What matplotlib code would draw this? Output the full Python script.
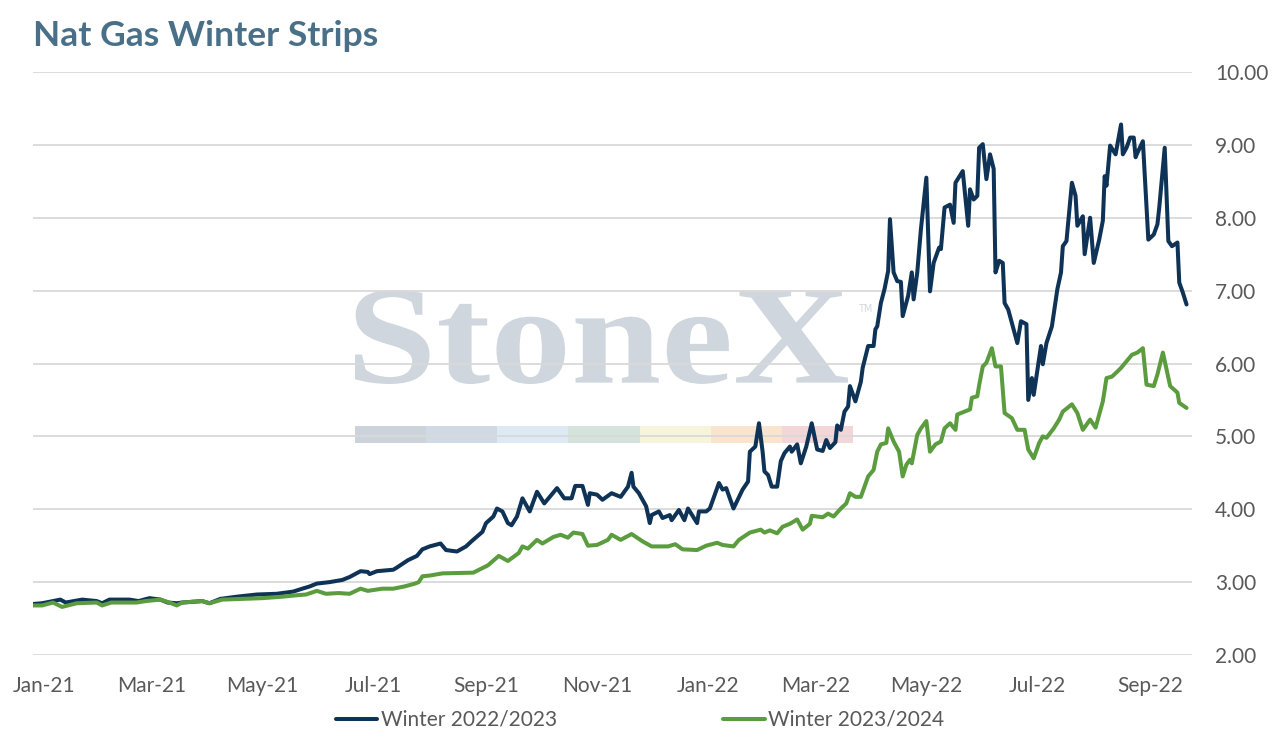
import matplotlib.pyplot as plt
import matplotlib.dates as mdates
from matplotlib.textpath import TextPath
from matplotlib.font_manager import FontProperties
from matplotlib.patches import PathPatch, Rectangle
from matplotlib.transforms import Affine2D
import pandas as pd

# Winter 2022/2023 strip ($/MMBtu)
w2223_dates = [
    "2020-12-26", "2020-12-31", "2021-01-10", "2021-01-13", "2021-01-22", "2021-01-30",
    "2021-02-02", "2021-02-06", "2021-02-17", "2021-02-22", "2021-02-28", "2021-03-06",
    "2021-03-10", "2021-03-15", "2021-03-18", "2021-03-29", "2021-04-02", "2021-04-08",
    "2021-04-17", "2021-04-28", "2021-05-09", "2021-05-18", "2021-05-23", "2021-05-27",
    "2021-05-31", "2021-06-07", "2021-06-14", "2021-06-18", "2021-06-24", "2021-06-28",
    "2021-06-29", "2021-07-03", "2021-07-12", "2021-07-14", "2021-07-20", "2021-07-25",
    "2021-07-28", "2021-08-01", "2021-08-07", "2021-08-10", "2021-08-16", "2021-08-21",
    "2021-08-24", "2021-08-30", "2021-09-01", "2021-09-05", "2021-09-07", "2021-09-10",
    "2021-09-13", "2021-09-15", "2021-09-18", "2021-09-21", "2021-09-25", "2021-09-29",
    "2021-10-03", "2021-10-10", "2021-10-14", "2021-10-18", "2021-10-20", "2021-10-24",
    "2021-10-27", "2021-10-28", "2021-11-01", "2021-11-04", "2021-11-09", "2021-11-14",
    "2021-11-18", "2021-11-20", "2021-11-21", "2021-11-24", "2021-11-28", "2021-11-30",
    "2021-12-01", "2021-12-05", "2021-12-07", "2021-12-11", "2021-12-12", "2021-12-16",
    "2021-12-19", "2021-12-21", "2021-12-26", "2021-12-27", "2021-12-31", "2022-01-02",
    "2022-01-07", "2022-01-09", "2022-01-11", "2022-01-15", "2022-01-20", "2022-01-23",
    "2022-01-24", "2022-01-27", "2022-01-29", "2022-01-31", "2022-02-01", "2022-02-03",
    "2022-02-05", "2022-02-08", "2022-02-10", "2022-02-12", "2022-02-15", "2022-02-16",
    "2022-02-19", "2022-02-21", "2022-02-24", "2022-02-27", "2022-03-02", "2022-03-05",
    "2022-03-07", "2022-03-09", "2022-03-12", "2022-03-13", "2022-03-15", "2022-03-17",
    "2022-03-19", "2022-03-20", "2022-03-23", "2022-03-26", "2022-03-27", "2022-03-30",
    "2022-04-02", "2022-04-03", "2022-04-04", "2022-04-06", "2022-04-08", "2022-04-10",
    "2022-04-11", "2022-04-13", "2022-04-15", "2022-04-17", "2022-04-18", "2022-04-21",
    "2022-04-23", "2022-04-24", "2022-04-26", "2022-04-28", "2022-05-01", "2022-05-03",
    "2022-05-05", "2022-05-08", "2022-05-09", "2022-05-11", "2022-05-14", "2022-05-16",
    "2022-05-17", "2022-05-21", "2022-05-24", "2022-05-25", "2022-05-27", "2022-05-29",
    "2022-05-30", "2022-06-01", "2022-06-03", "2022-06-05", "2022-06-07", "2022-06-08",
    "2022-06-10", "2022-06-12", "2022-06-13", "2022-06-15", "2022-06-20", "2022-06-22",
    "2022-06-25", "2022-06-26", "2022-06-28", "2022-06-29", "2022-07-03", "2022-07-04",
    "2022-07-06", "2022-07-09", "2022-07-12", "2022-07-14", "2022-07-15", "2022-07-17",
    "2022-07-20", "2022-07-22", "2022-07-23", "2022-07-26", "2022-07-27", "2022-07-30",
    "2022-08-01", "2022-08-04", "2022-08-06", "2022-08-07", "2022-08-08", "2022-08-10",
    "2022-08-13", "2022-08-16", "2022-08-17", "2022-08-19", "2022-08-21", "2022-08-23",
    "2022-08-24", "2022-08-25", "2022-08-28", "2022-08-31", "2022-09-03", "2022-09-05",
    "2022-09-06", "2022-09-09", "2022-09-11", "2022-09-13", "2022-09-16", "2022-09-17",
    "2022-09-19", "2022-09-21",
]
w2223_vals = [
    2.70, 2.71, 2.76, 2.72, 2.76, 2.74,
    2.71, 2.76, 2.76, 2.74, 2.78, 2.76,
    2.72, 2.71, 2.72, 2.74, 2.71, 2.77,
    2.80, 2.83, 2.84, 2.87, 2.91, 2.94,
    2.98, 3.00, 3.03, 3.07, 3.15, 3.14,
    3.11, 3.15, 3.17, 3.20, 3.30, 3.36,
    3.45, 3.49, 3.53, 3.44, 3.42, 3.49,
    3.56, 3.69, 3.81, 3.90, 4.01, 3.97,
    3.81, 3.78, 3.90, 4.15, 3.97, 4.24,
    4.08, 4.29, 4.15, 4.15, 4.32, 4.32,
    4.06, 4.22, 4.20, 4.13, 4.22, 4.17,
    4.31, 4.50, 4.31, 4.22, 4.04, 3.81,
    3.92, 3.97, 3.88, 3.92, 3.85, 3.99,
    3.85, 4.01, 3.81, 3.97, 3.97, 4.01,
    4.36, 4.27, 4.29, 4.01, 4.27, 4.38,
    4.79, 4.86, 5.18, 4.79, 4.52, 4.47,
    4.31, 4.31, 4.66, 4.77, 4.86, 4.79,
    4.89, 4.63, 4.86, 5.18, 4.82, 4.80,
    4.95, 4.84, 4.92, 5.15, 5.09, 5.34,
    5.41, 5.69, 5.48, 5.75, 5.94, 6.24,
    6.24, 6.47, 6.51, 6.83, 7.02, 7.27,
    7.98, 7.25, 7.13, 7.12, 6.65, 6.93,
    7.25, 6.88, 7.25, 7.84, 8.55, 6.99,
    7.38, 7.59, 7.57, 8.14, 8.18, 7.93,
    8.48, 8.64, 7.89, 8.39, 8.25, 8.30,
    8.96, 9.01, 8.53, 8.87, 8.67, 7.25,
    7.41, 7.38, 6.83, 6.74, 6.28, 6.58,
    6.54, 5.50, 5.80, 5.57, 6.24, 5.99,
    6.28, 6.51, 7.02, 7.25, 7.61, 7.68,
    8.48, 8.30, 7.89, 8.02, 7.50, 8.00,
    7.38, 7.70, 7.96, 8.57, 8.44, 8.99,
    8.87, 9.28, 8.87, 8.96, 9.10, 9.10,
    8.83, 8.89, 9.05, 7.70, 7.77, 7.91,
    8.14, 8.96, 7.68, 7.61, 7.66, 7.11,
    6.97, 6.81,
]

# Winter 2023/2024 strip ($/MMBtu)
w2324_dates = [
    "2020-12-26", "2020-12-31", "2021-01-06", "2021-01-11", "2021-01-19", "2021-01-30",
    "2021-02-02", "2021-02-07", "2021-02-21", "2021-02-26", "2021-03-06", "2021-03-11",
    "2021-03-15", "2021-03-18", "2021-03-29", "2021-04-02", "2021-04-09", "2021-04-20",
    "2021-05-01", "2021-05-12", "2021-05-20", "2021-05-25", "2021-05-31", "2021-06-05",
    "2021-06-12", "2021-06-18", "2021-06-24", "2021-06-28", "2021-07-06", "2021-07-12",
    "2021-07-18", "2021-07-24", "2021-07-26", "2021-07-28", "2021-08-01", "2021-08-08",
    "2021-08-25", "2021-09-02", "2021-09-08", "2021-09-13", "2021-09-19", "2021-09-21",
    "2021-09-24", "2021-09-29", "2021-10-02", "2021-10-08", "2021-10-12", "2021-10-16",
    "2021-10-19", "2021-10-24", "2021-10-27", "2021-11-01", "2021-11-07", "2021-11-09",
    "2021-11-14", "2021-11-20", "2021-11-26", "2021-12-01", "2021-12-10", "2021-12-14",
    "2021-12-18", "2021-12-26", "2021-12-31", "2022-01-06", "2022-01-09", "2022-01-15",
    "2022-01-18", "2022-01-24", "2022-01-30", "2022-02-01", "2022-02-04", "2022-02-08",
    "2022-02-11", "2022-02-15", "2022-02-19", "2022-02-22", "2022-02-26", "2022-02-27",
    "2022-03-05", "2022-03-08", "2022-03-11", "2022-03-15", "2022-03-18", "2022-03-20",
    "2022-03-23", "2022-03-26", "2022-03-28", "2022-03-30", "2022-04-02", "2022-04-04",
    "2022-04-06", "2022-04-09", "2022-04-10", "2022-04-13", "2022-04-16", "2022-04-18",
    "2022-04-20", "2022-04-22", "2022-04-23", "2022-04-26", "2022-04-28", "2022-05-01",
    "2022-05-03", "2022-05-06", "2022-05-09", "2022-05-11", "2022-05-14", "2022-05-17",
    "2022-05-18", "2022-05-22", "2022-05-25", "2022-05-26", "2022-05-29", "2022-05-30",
    "2022-06-01", "2022-06-03", "2022-06-06", "2022-06-08", "2022-06-11", "2022-06-13",
    "2022-06-17", "2022-06-20", "2022-06-24", "2022-06-26", "2022-06-29", "2022-07-02",
    "2022-07-04", "2022-07-06", "2022-07-10", "2022-07-13", "2022-07-15", "2022-07-20",
    "2022-07-23", "2022-07-26", "2022-07-30", "2022-08-02", "2022-08-06", "2022-08-08",
    "2022-08-11", "2022-08-14", "2022-08-16", "2022-08-22", "2022-08-25", "2022-08-28",
    "2022-08-30", "2022-09-03", "2022-09-05", "2022-09-08", "2022-09-12", "2022-09-16",
    "2022-09-17", "2022-09-21",
]
w2324_vals = [
    2.68, 2.68, 2.72, 2.66, 2.71, 2.72,
    2.68, 2.72, 2.72, 2.74, 2.76, 2.72,
    2.68, 2.72, 2.74, 2.71, 2.76, 2.77,
    2.78, 2.80, 2.82, 2.83, 2.88, 2.84,
    2.85, 2.84, 2.91, 2.88, 2.91, 2.91,
    2.94, 2.98, 3.00, 3.08, 3.09, 3.12,
    3.13, 3.23, 3.36, 3.29, 3.40, 3.49,
    3.46, 3.58, 3.53, 3.62, 3.65, 3.61,
    3.68, 3.66, 3.50, 3.51, 3.58, 3.65,
    3.58, 3.66, 3.56, 3.49, 3.49, 3.52,
    3.45, 3.44, 3.50, 3.54, 3.51, 3.49,
    3.58, 3.68, 3.72, 3.68, 3.71, 3.67,
    3.76, 3.80, 3.86, 3.72, 3.80, 3.91,
    3.89, 3.94, 3.90, 4.01, 4.08, 4.22,
    4.17, 4.17, 4.31, 4.45, 4.54, 4.79,
    4.89, 4.91, 5.11, 4.93, 4.79, 4.45,
    4.61, 4.68, 4.63, 5.02, 5.11, 5.21,
    4.79, 4.89, 4.93, 5.11, 5.18, 5.09,
    5.30, 5.34, 5.37, 5.53, 5.55, 5.70,
    5.96, 6.01, 6.21, 5.96, 5.96, 5.32,
    5.25, 5.09, 5.09, 4.82, 4.70, 4.91,
    5.00, 4.98, 5.11, 5.23, 5.34, 5.44,
    5.32, 5.09, 5.23, 5.12, 5.48, 5.80,
    5.82, 5.89, 5.94, 6.12, 6.15, 6.21,
    5.71, 5.69, 5.85, 6.15, 5.69, 5.60,
    5.46, 5.39,
]

series_names = ["Winter 2022/2023", "Winter 2023/2024"]
series_colors = ["#0e3356", "#5b9c3f"]
y_ticks = [2, 3, 4, 5, 6, 7, 8, 9, 10]

W, H = 1272, 743
fig = plt.figure(figsize=(W / 100, H / 100), dpi=100)
ax = fig.add_axes([33 / W, 1 - 655 / H, (1192 - 33) / W, (655 - 72) / H])
ax.patch.set_alpha(0)

# StoneX watermark, drawn behind the axes
wm = TextPath((0, 0), "StoneX", prop=FontProperties(family="Liberation Serif", weight="bold"))
ext = wm.get_extents()
bx0, bx1, by0, by1 = 355, 848, 290, 384
tr = (Affine2D().translate(-ext.x0, -ext.y0)
      .scale((bx1 - bx0) / ext.width / W, (by1 - by0) / ext.height / H)
      .translate(bx0 / W, 1 - by1 / H) + fig.transFigure)
fig.patches.append(PathPatch(wm, transform=tr, facecolor="#cfd6de", edgecolor="none", zorder=-5))
fig.text(858 / W, 1 - 312 / H, "TM", fontsize=7, color="#d3d9e0", zorder=-5)
bar_colors = ["#cdd3db", "#d0dae5", "#dde9f3", "#d4e3db", "#f7f4dc", "#fae4cd", "#f3d6d7"]
seg = (853 - 355) / len(bar_colors)
for i, c in enumerate(bar_colors):
    fig.patches.append(Rectangle(((355 + i * seg) / W, 1 - 443 / H), seg / W, 17 / H,
                                 transform=fig.transFigure, facecolor=c, edgecolor="none", zorder=-5))

for dates, vals, name, col in [(w2223_dates, w2223_vals, series_names[0], series_colors[0]),
                               (w2324_dates, w2324_vals, series_names[1], series_colors[1])]:
    ax.plot(pd.to_datetime(dates), vals, color=col, lw=2.9, label=name,
            solid_joinstyle="round", solid_capstyle="round", zorder=3)

ax.set_ylim(2, 10)
ax.set_yticks(y_ticks)
ax.set_yticklabels([f"{v:.2f}" for v in y_ticks])
ax.set_xlim(pd.Timestamp("2020-12-26"), pd.Timestamp("2022-09-24"))
ax.xaxis.set_major_locator(mdates.MonthLocator(bymonth=[1, 3, 5, 7, 9, 11]))
ax.xaxis.set_major_formatter(mdates.DateFormatter("%b-%y"))
ax.yaxis.tick_right()
ax.grid(axis="y", color="#d9d9d9", lw=1.3)
ax.set_axisbelow(True)
for s in ax.spines.values():
    s.set_visible(False)
ax.tick_params(axis="y", length=0, pad=16.5, labelsize=15, labelcolor="#595959")
ax.tick_params(axis="x", length=0, pad=15, labelsize=15, labelcolor="#595959")
for lab in ax.get_xticklabels() + ax.get_yticklabels():
    lab.set_family("Lato")

fig.text(33 / W, 1 - 36 / H, "Nat Gas Winter Strips", fontsize=25.5, fontweight="bold",
         color="#4a7089", family="Lato", va="center", ha="left")

fig.legend(loc="center", bbox_to_anchor=(640 / W, 1 - 720 / H), ncol=2, frameon=False,
           prop={"family": "Lato", "size": 15}, labelcolor="#595959",
           handlelength=2.0, handletextpad=0.15, columnspacing=8.0)

fig.savefig("out.png", dpi=100)
